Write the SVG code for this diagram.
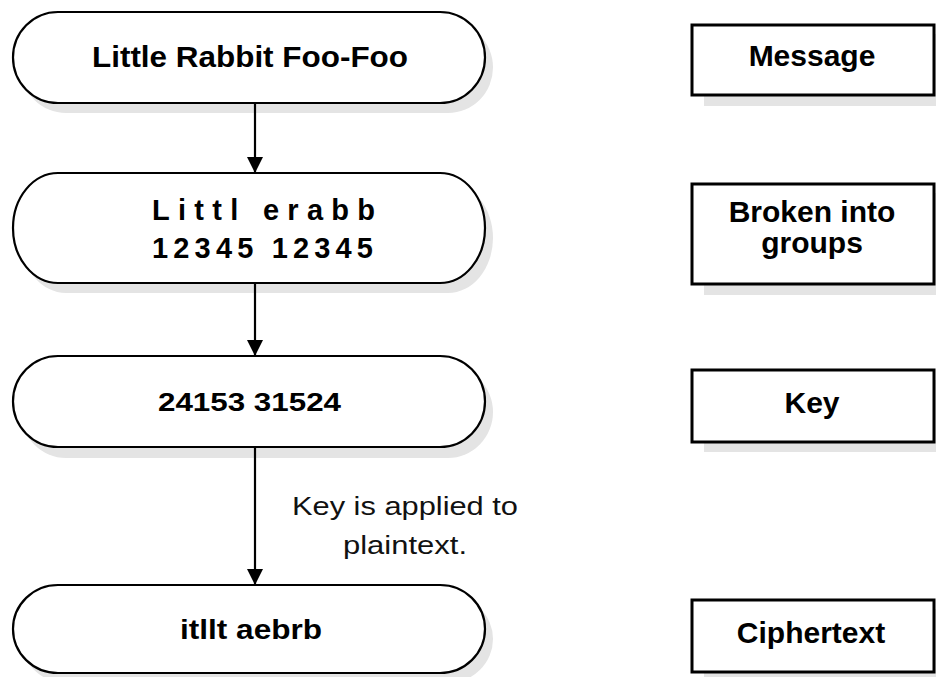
<svg xmlns="http://www.w3.org/2000/svg" width="936" height="677" viewBox="0 0 936 677">
<defs>
<style>
.shadow{fill:#e4e4e4;stroke:none}
.term{fill:#fff;stroke:#000;stroke-width:2.2}
.box{fill:#fff;stroke:#000;stroke-width:3}
.t{font-family:"Liberation Sans",Arial,Helvetica,sans-serif;font-weight:bold;fill:#000;text-anchor:middle}
.lbl{font-family:"Liberation Sans",Arial,Helvetica,sans-serif;font-weight:normal;fill:#111;text-anchor:middle}
.conn{stroke:#000;stroke-width:2.2;fill:none}
</style>
<marker id="ah" viewBox="0 0 16 16" refX="16" refY="8" markerWidth="16" markerHeight="16" markerUnits="userSpaceOnUse" orient="auto">
<path d="M0,0 L16,8 L0,16 Z" fill="#000"/>
</marker>
</defs>
<rect width="936" height="677" fill="#fff"/>

<g id="node-message">
<rect class="shadow" x="21" y="22" width="472" height="91" rx="45" ry="45.5"/>
<rect class="term" x="13" y="12" width="472" height="91" rx="45" ry="45.5"/>
<text class="t" x="250" y="67" font-size="30" textLength="316" lengthAdjust="spacingAndGlyphs">Little Rabbit Foo-Foo</text>
</g>

<g id="node-groups">
<rect class="shadow" x="21" y="183" width="472" height="110" rx="45" ry="55"/>
<rect class="term" x="13" y="173" width="472" height="110" rx="45" ry="55"/>
<text class="t" x="263.5" y="220" font-size="29" textLength="223" lengthAdjust="spacing">Littl erabb</text>
<text class="t" x="262.5" y="258" font-size="29" textLength="221" lengthAdjust="spacing">12345 12345</text>
</g>

<g id="node-key">
<rect class="shadow" x="21" y="366" width="472" height="92" rx="45" ry="46"/>
<rect class="term" x="13" y="356" width="472" height="91" rx="45" ry="45.5"/>
<text class="t" x="249.5" y="411" font-size="26" textLength="183" lengthAdjust="spacingAndGlyphs">24153 31524</text>
</g>

<g id="node-cipher">
<rect class="shadow" x="21" y="595" width="472" height="88" rx="45" ry="44"/>
<rect class="term" x="13" y="585" width="472" height="88" rx="45" ry="44"/>
<text class="t" x="251" y="639" font-size="28" textLength="142" lengthAdjust="spacingAndGlyphs">itllt aebrb</text>
</g>

<g id="box-message">
<rect class="shadow" x="704" y="34" width="240" height="72"/>
<rect class="box" x="692" y="25" width="242" height="70"/>
<text class="t" x="812" y="66" font-size="30">Message</text>
</g>

<g id="box-groups">
<rect class="shadow" x="704" y="193" width="240" height="102"/>
<rect class="box" x="692" y="184" width="242" height="100"/>
<text class="t" x="812" y="222" font-size="30">Broken into</text>
<text class="t" x="812" y="253" font-size="30">groups</text>
</g>

<g id="box-key">
<rect class="shadow" x="704" y="380" width="240" height="72"/>
<rect class="box" x="692" y="370" width="242" height="72"/>
<text class="t" x="812" y="413" font-size="30">Key</text>
</g>

<g id="box-cipher">
<rect class="shadow" x="704" y="609" width="240" height="72"/>
<rect class="box" x="692" y="600" width="242" height="72"/>
<text class="t" x="811" y="643" font-size="30">Ciphertext</text>
</g>

<g id="connectors">
<line class="conn" x1="255" y1="103" x2="255" y2="173" marker-end="url(#ah)"/>
<line class="conn" x1="255" y1="283" x2="255" y2="356" marker-end="url(#ah)"/>
<line class="conn" x1="255" y1="447" x2="255" y2="585" marker-end="url(#ah)"/>
<text class="lbl" x="405" y="515" font-size="26" textLength="226" lengthAdjust="spacingAndGlyphs">Key is applied to</text>
<text class="lbl" x="405" y="554" font-size="26" textLength="124" lengthAdjust="spacingAndGlyphs">plaintext.</text>
</g>
</svg>
